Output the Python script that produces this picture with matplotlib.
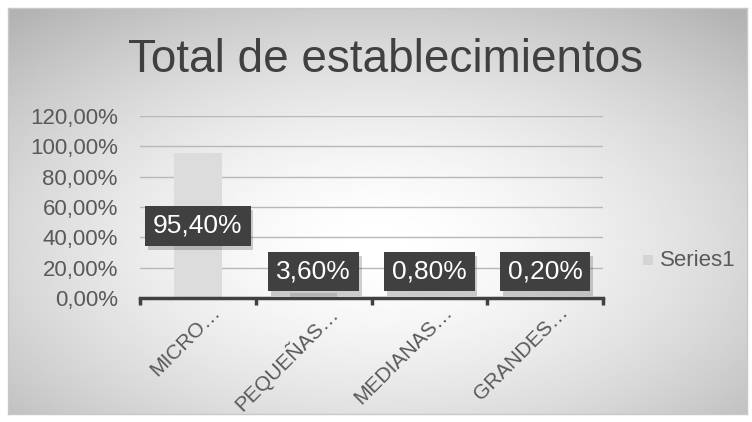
import matplotlib.pyplot as plt
import matplotlib.patheffects as pe
import numpy as np
from matplotlib.transforms import ScaledTranslation

categorias = ["MICRO…", "PEQUEÑAS…", "MEDIANAS…", "GRANDES…"]
valores = [95.40, 3.60, 0.80, 0.20]
etiquetas = ["95,40%", "3,60%", "0,80%", "0,20%"]
ticks_y = [0, 20, 40, 60, 80, 100, 120]
ticks_y_txt = ["0,00%", "20,00%", "40,00%", "60,00%", "80,00%", "100,00%", "120,00%"]

plt.rcParams['font.family'] = ['Liberation Sans', 'DejaVu Sans']

W, H = 752, 422
fig = plt.figure(figsize=(W / 100, H / 100), dpi=100)
fig.patch.set_facecolor('white')

# fondo con degradado radial
bg = fig.add_axes([8 / W, 8 / H, 739 / W, 406 / H])
yy, xx = np.mgrid[0:1:200j, 0:1:300j]
r = np.sqrt(((xx - 0.5) / 0.75) ** 2 + ((yy - 0.58) / 0.75) ** 2)
grad = 1.0 - 0.30 * np.clip(r, 0, 1) ** 1.6
bg.imshow(grad, cmap='gray', vmin=0, vmax=1, aspect='auto', extent=[0, 1, 0, 1])
bg.set_xticks([])
bg.set_yticks([])
for s in bg.spines.values():
    s.set_color('#c8c8c8')
    s.set_linewidth(1)

ax = fig.add_axes([140 / W, 124 / H, 463 / W, 182 / H])
ax.patch.set_alpha(0)
x = np.arange(len(categorias))
barras = ax.bar(x, valores, width=0.41, color='#dcdcdc', zorder=2)

ax.set_xlim(-0.5, len(categorias) - 0.5)
ax.set_ylim(0, 120)
ax.set_yticks(ticks_y)
ax.set_yticklabels(ticks_y_txt)
ax.yaxis.grid(True, color='#b8b8b8', linewidth=1, zorder=0)
ax.tick_params(axis='y', length=0, labelsize=16, labelcolor='#595959', pad=16)
for s in ['top', 'right', 'left']:
    ax.spines[s].set_visible(False)
ax.spines['bottom'].set_color('#404040')
ax.spines['bottom'].set_linewidth(2.5)
ax.spines['bottom'].set_zorder(4)

ax.set_xticks(np.arange(len(categorias) + 1) - 0.5, minor=True)
ax.tick_params(axis='x', which='minor', length=5, width=2.5, color='#404040', direction='out')
ax.set_xticks(x)
ax.set_xticklabels(categorias, rotation=45, ha='right', rotation_mode='anchor')
ax.tick_params(axis='x', which='major', length=0, labelsize=15, labelcolor='#595959', pad=4)
off = ScaledTranslation(13 / 100, 1 / 100, fig.dpi_scale_trans)
for lbl in ax.get_xticklabels():
    lbl.set_transform(lbl.get_transform() + off)

# etiquetas de datos
pos_y = [valores[0] / 2, 17.5, 17.5, 17.5]
for i, (t, py) in enumerate(zip(etiquetas, pos_y)):
    txt = ax.text(i, py, t, ha='center', va='center', color='white', fontsize=19,
                  zorder=5,
                  bbox=dict(boxstyle='square,pad=0.3', facecolor='#404040', edgecolor='none'))
    txt.get_bbox_patch().set_path_effects([pe.SimplePatchShadow(offset=(2, -3), alpha=0.2), pe.Normal()])

fig.text(385 / W, 1 - 60 / H, "Total de establecimientos", ha='center', va='center',
         fontsize=33, color='#404040')

# leyenda
fig.patches.append(plt.Rectangle((643 / W, 1 - 265 / H), 10 / W, 10 / H, transform=fig.transFigure,
                                 facecolor='#d4d4d4', edgecolor='none'))
fig.text(660 / W, 1 - 260 / H, "Series1", ha='left', va='center', fontsize=16, color='#595959')

fig.savefig('out.png', dpi=100)
